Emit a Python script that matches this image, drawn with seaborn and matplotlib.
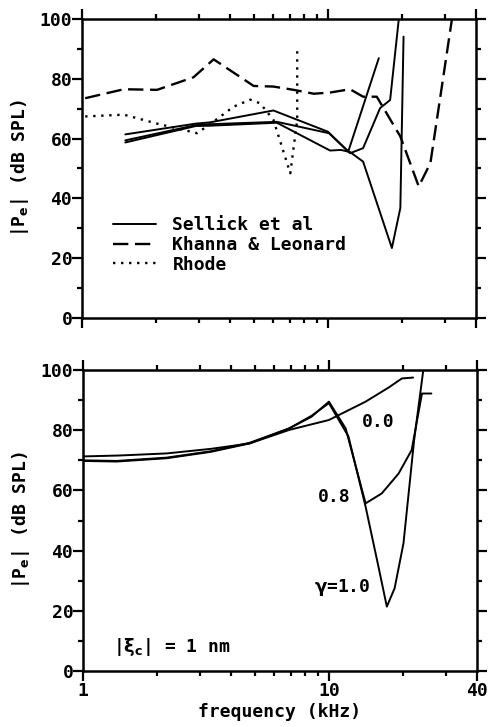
import pandas as pd
import seaborn as sns
import matplotlib.pyplot as plt
from matplotlib.ticker import FixedLocator, NullFormatter, FixedFormatter

# top panel: measured data
sellick_a_f = [1.5, 2.9, 3.3, 6.0, 10.0, 12.1, 16.1]
sellick_a_db = [61.4, 65.0, 65.4, 69.4, 62.3, 55.7, 86.9]
sellick_b_f = [1.5, 2.9, 3.3, 6.2, 10.1, 12.3, 13.9, 16.3, 17.9, 19.4]
sellick_b_db = [59.4, 64.5, 64.8, 65.6, 61.8, 55.1, 56.8, 70.2, 72.9, 99.7]
sellick_c_f = [1.5, 2.9, 3.3, 6.2, 10.2, 11.3, 12.3, 13.9, 18.2, 19.7, 20.3]
sellick_c_db = [58.7, 64.2, 64.3, 65.3, 56.0, 56.2, 55.5, 52.3, 23.4, 36.8, 94.1]
khanna_f = [1.03, 1.48, 2.02, 2.84, 3.43, 4.99, 6.0, 7.25, 8.76, 10.2, 12.3, 13.9, 15.8, 19.7, 23.4, 26.1, 31.9]
khanna_db = [73.5, 76.5, 76.3, 80.5, 86.5, 77.6, 77.4, 76.3, 75.0, 75.4, 76.5, 74.0, 74.0, 60.7, 44.0, 51.8, 99.7]
rhode_f = [1.03, 1.48, 2.02, 2.94, 3.43, 4.14, 4.83, 5.3, 6.0, 7.03, 7.5, 7.5]
rhode_db = [67.4, 68.0, 65.0, 61.8, 65.7, 70.7, 73.0, 71.8, 66.3, 48.4, 66.3, 90.8]

# bottom panel: model, gamma = 0.0, 0.8, 1.0
g00_f = [1.0, 1.4, 2.19, 3.3, 4.75, 6.89, 10.0, 14.1, 17.5, 19.8, 22.0]
g00_db = [71.3, 71.6, 72.3, 73.8, 75.6, 80.1, 83.4, 89.5, 94.2, 97.2, 97.5]
g08_f = [1.0, 1.37, 2.19, 3.3, 4.75, 6.89, 8.5, 10.0, 11.7, 14.1, 16.4, 19.2, 21.7, 23.9, 26.1]
g08_db = [69.8, 69.6, 70.7, 72.8, 75.6, 80.6, 84.5, 89.5, 80.6, 55.7, 59.0, 65.6, 73.4, 92.2, 92.2]
g10_f = [1.0, 1.37, 2.19, 3.3, 4.75, 6.89, 8.5, 10.0, 12.0, 14.1, 15.9, 17.2, 18.5, 20.1, 22.2, 24.2]
g10_db = [70.0, 69.8, 70.9, 73.0, 75.8, 80.6, 84.8, 89.0, 78.0, 54.6, 34.7, 21.4, 27.5, 42.4, 76.6, 100.0]

sns.set_style('ticks')
plt.rcParams['font.family'] = ['DejaVu Sans Mono', 'DejaVu Sans']
plt.rcParams['font.weight'] = 'bold'
plt.rcParams['axes.labelweight'] = 'bold'
plt.rcParams['mathtext.fontset'] = 'dejavusans'
plt.rcParams['mathtext.default'] = 'bf'
for k in ['text.color', 'axes.labelcolor', 'xtick.color', 'ytick.color', 'axes.edgecolor']:
    plt.rcParams[k] = 'black'

fig = plt.figure(figsize=(4.89, 7.27), dpi=100)
ax1 = fig.add_axes([0.1677, 0.5626, 0.8057, 0.4113])
ax2 = fig.add_axes([0.1697, 0.0770, 0.8057, 0.4140])

lw = 1.4
for f, db in [(sellick_a_f, sellick_a_db), (sellick_b_f, sellick_b_db), (sellick_c_f, sellick_c_db)]:
    sns.lineplot(x=f, y=db, ax=ax1, color='black', lw=lw, sort=False, estimator=None)
sns.lineplot(x=khanna_f, y=khanna_db, ax=ax1, color='black', lw=1.7, sort=False,
             estimator=None).lines[-1].set_dashes((6.5, 2.8))
sns.lineplot(x=rhode_f, y=rhode_db, ax=ax1, color='black', lw=1.7, sort=False,
             estimator=None).lines[-1].set_dashes((1, 2.4))

for f, db in [(g00_f, g00_db), (g08_f, g08_db), (g10_f, g10_db)]:
    sns.lineplot(x=f, y=db, ax=ax2, color='black', lw=lw, sort=False, estimator=None)

fs = 13
for ax in (ax1, ax2):
    ax.set_xscale('log')
    ax.set_xlim(1, 40)
    ax.set_ylim(0, 100)
    for s in ax.spines.values():
        s.set_visible(True)
        s.set_linewidth(1.8)
    ax.xaxis.set_major_locator(FixedLocator([1, 10, 40]))
    ax.xaxis.set_minor_locator(FixedLocator([2, 3, 4, 5, 6, 7, 8, 9, 20, 30]))
    ax.xaxis.set_minor_formatter(NullFormatter())
    ax.yaxis.set_major_locator(FixedLocator([0, 20, 40, 60, 80, 100]))
    ax.yaxis.set_minor_locator(FixedLocator([10, 30, 50, 70, 90]))
    ax.tick_params(which='both', direction='out', top=True, right=True, width=1.6)
    ax.tick_params(which='major', length=7, labelsize=fs, pad=0)
    ax.tick_params(which='minor', length=3.5)
    ax.set_ylabel(r'|P$_\mathrm{e}$| (dB SPL)', fontsize=fs, labelpad=6)
    ax.set_xlabel('')

ax1.xaxis.set_major_formatter(NullFormatter())
ax2.xaxis.set_major_formatter(FixedFormatter(['1', '10', '40']))
ax2.tick_params(axis='x', which='major', pad=1)
ax2.set_xlabel('frequency (kHz)', fontsize=fs, labelpad=2)

# legend in top panel
h = ax1.get_lines()
ax1.legend([h[0], h[3], h[4]], ['Sellick et al', 'Khanna & Leonard', 'Rhode'],
           loc='upper left', bbox_to_anchor=(0.06, 0.365), frameon=False, fontsize=fs,
           handlelength=2.4, handletextpad=0.9, labelspacing=0.1, borderaxespad=0)

# curve labels in bottom panel
ax2.text(15.9, 82.7, '0.0', fontsize=fs, ha='center', va='center')
ax2.text(10.5, 57.8, '0.8', fontsize=fs, ha='center', va='center')
ax2.text(11.3, 27.9, r'$\gamma$=1.0', fontsize=fs, ha='center', va='center')
ax2.text(1.32, 8.0, r'|$\xi_\mathrm{c}$| = 1 nm', fontsize=fs, ha='left', va='center')

plt.savefig('out.png', dpi=100)
